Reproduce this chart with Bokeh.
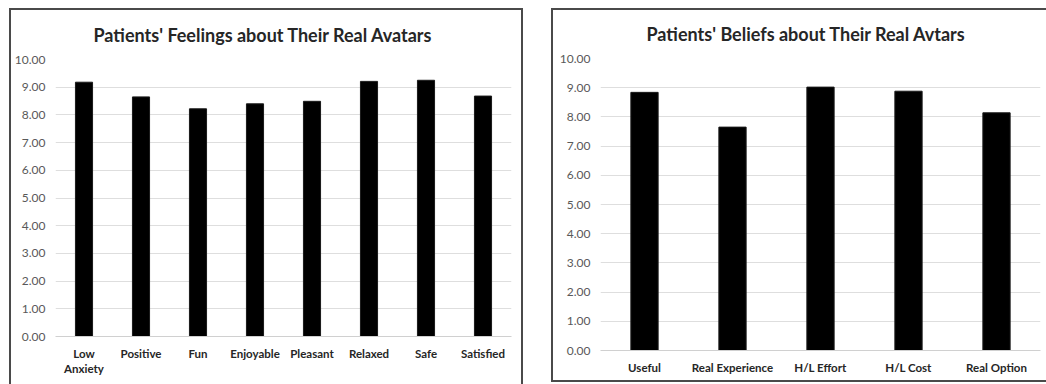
from bokeh.plotting import figure
from bokeh.layouts import row, column
from bokeh.models import FixedTicker, NumeralTickFormatter, ColumnDataSource
from bokeh.embed import file_html
from bokeh.resources import INLINE

# ---- data ----
feelings_cats = ["Low\nAnxiety", "Positive", "Fun", "Enjoyable", "Pleasant", "Relaxed", "Safe", "Satisfied"]
feelings_vals = [9.18, 8.65, 8.22, 8.40, 8.49, 9.21, 9.25, 8.68]

beliefs_cats = ["Useful", "Real Experience", "H/L Effort", "H/L Cost", "Real Option"]
beliefs_vals = [8.84, 7.65, 9.02, 8.88, 8.14]

y_ticks = [0, 1, 2, 3, 4, 5, 6, 7, 8, 9, 10]

FONT = "Lato"


def make_chart(title, cats, vals, width, height, bl, br, bt, bb, bar_w, title_offset,
               x_standoff, border_css):
    p = figure(x_range=cats, y_range=(0, 10), width=width, height=height,
               output_backend="svg", toolbar_location=None, title=title,
               min_border_left=bl, min_border_right=br, min_border_top=bt, min_border_bottom=bb)
    src = ColumnDataSource(dict(cat=cats, val=vals))
    p.vbar(x="cat", top="val", width=bar_w, source=src, fill_color="#000000", line_color="#1a1a1a")
    p.title.text_font = FONT
    p.title.text_font_size = "18px"
    p.title.text_font_style = "bold"
    p.title.text_color = "#262626"
    p.title.align = "left"
    p.title.vertical_align = "top"
    p.title.offset = title_offset
    p.title.standoff = 24
    p.outline_line_color = None
    p.background_fill_color = "white"
    p.border_fill_color = "white"
    p.xgrid.grid_line_color = None
    p.ygrid.grid_line_color = "#dedede"
    p.ygrid.grid_line_width = 1
    p.yaxis.ticker = FixedTicker(ticks=y_ticks)
    p.yaxis.formatter = NumeralTickFormatter(format="0.00")
    p.yaxis.axis_line_color = None
    p.yaxis.major_tick_line_color = None
    p.yaxis.minor_tick_line_color = None
    p.yaxis.major_label_text_font = FONT
    p.yaxis.major_label_text_font_size = "12px"
    p.yaxis.major_label_text_color = "#595959"
    p.yaxis.major_label_standoff = 4
    p.xaxis.axis_line_color = "#d0d0d0"
    p.xaxis.major_tick_line_color = None
    p.xaxis.minor_tick_line_color = None
    p.xaxis.major_label_text_font = FONT
    p.xaxis.major_label_text_font_size = "11.5px"
    p.xaxis.major_label_text_font_style = "bold"
    p.xaxis.major_label_text_color = "#262626"
    p.xaxis.major_label_standoff = x_standoff
    p.x_range.range_padding = 0
    p.styles = border_css
    return p


p1 = make_chart("Patients' Feelings about Their Real Avatars", feelings_cats, feelings_vals,
                514, 376, 37, 14, 49, 50, 0.30, 38, 4,
                {"border-top": "2px solid #4a4a4a", "border-left": "2px solid #4a4a4a",
                 "border-right": "2px solid #4a4a4a", "box-sizing": "border-box"})
p2 = make_chart("Patients' Beliefs about Their Real Avtars", beliefs_cats, beliefs_vals,
                495, 374, 47, 8, 48, 34, 0.31, 46, 4,
                {"border-top": "2px solid #4a4a4a", "border-left": "2px solid #4a4a4a",
                 "border-bottom": "2px solid #4a4a4a", "box-sizing": "border-box"})

layout = row(column(p1), column(p2), spacing=28)
layout.margin = (8, 0, 0, 9)

open("out.html", "w").write(file_html(layout, INLINE))
